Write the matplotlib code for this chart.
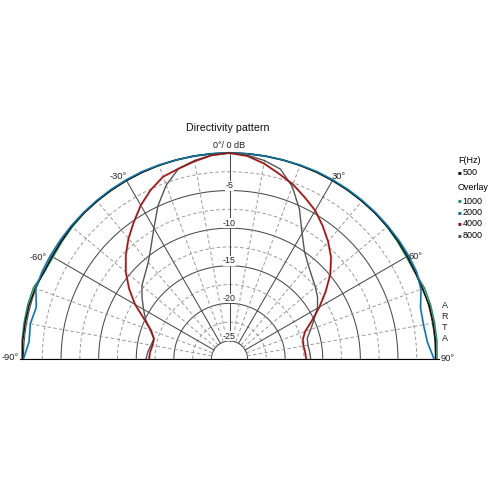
import numpy as np
import matplotlib
matplotlib.use("Agg")
import matplotlib.pyplot as plt

plt.rcParams['font.family'] = ['Liberation Sans', 'DejaVu Sans']

# ---------------- data ----------------
angles_deg = [-90, -85, -80, -75, -70, -65, -60, -55, -50, -45, -40, -35, -30,
              -25, -20, -15, -10, -5, 0, 5, 10, 15, 20, 25, 30, 35, 40, 45,
              50, 55, 60, 65, 70, 75, 80, 85, 90]

db_500 = [0.1, 0.2, 0.2, 0.2, 0.1, -0.15, -0.15, -0.1, 0.0, 0.0, 0.0, 0.0, 0.0,
          0.0, 0.0, 0.0, 0.0, 0.0, 0.0, 0.0, 0.0, 0.0, 0.0, 0.0, 0.0, 0.0, 0.0, 0.0,
          0.0, -0.05, -0.1, -0.15, -0.1, 0.1, 0.1, 0.1, 0.0]

db_1000 = [0.2, 0.3, 0.35, 0.4, 0.35, -0.2, -0.3, -0.2, -0.1, 0.0, 0.0, 0.0, 0.0,
           0.0, 0.0, 0.0, 0.0, 0.0, 0.0, 0.0, 0.0, 0.0, 0.0, 0.0, 0.0, 0.0, 0.0, 0.0,
           -0.05, -0.15, -0.25, -0.2, 0.2, 0.3, 0.3, 0.3, 0.2]

db_2000 = [0.0, -0.65, -0.5, -0.8, 0.0, 0.1, 0.1, 0.1, 0.1, 0.1, 0.1, 0.1, 0.1,
           0.1, 0.05, 0.0, 0.0, 0.0, 0.0, 0.0, 0.0, 0.0, 0.05, 0.1, 0.1, 0.1, 0.1, 0.1,
           0.1, 0.1, 0.1, 0.05, -0.3, -1.1, -1.2, -1.0, -0.2]

db_4000 = [-16.7, -16.8, -17.0, -17.0, -16.3, -14.9, -12.9, -11.1, -9.4, -7.9, -6.5,
           -5.2, -3.8, -2.6, -1.6, -1.2, -0.7, -0.2, 0.0, -0.3, -1.0, -1.9, -2.7,
           -3.7, -4.6, -5.8, -7.0, -8.3, -9.9, -11.8, -13.6, -15.3, -16.7, -17.3,
           -17.4, -17.3, -17.2]

db_8000 = [-16.3, -16.5, -16.8, -17.0, -16.2, -15.1, -14.2, -13.2, -12.2, -11.5,
           -10.6, -9.2, -7.3, -4.9, -2.8, -1.2, -0.6, -0.2, 0.0, -0.2, -0.6, -1.25,
           -3.0, -5.4, -8.1, -10.0, -11.1, -11.9, -12.5, -13.1, -13.9, -15.0, -15.9,
           -16.7, -16.8, -16.7, -16.6]

series_labels = ['500', '1000', '2000', '4000', '8000']
series_colors = ['#111111', '#25905c', '#1c6c9c', '#8e1616', '#555555']
halo_colors = [None, None, '#8ad8ee', '#e07a7a', None]

radial_ticks = [-5, -10, -15, -20, -25]
angle_tick_labels = {-90: '-90°', -60: '-60°', -30: '-30°', 30: '30°', 60: '60°', 90: '90°'}

# ---------------- figure ----------------
W = H = 496
fig = plt.figure(figsize=(W / 100, H / 100), dpi=100)
fig.patch.set_facecolor('white')

rmin, rmax = -27.4, 0.5
px_per_db = 7.52
R = (rmax - rmin) * px_per_db
cx, cy = 229.5, 359.0
# square box; the half-disc wedge is centred vertically inside it
box_bottom_px = cy + R / 2
ax = fig.add_axes([(cx - R) / W, (H - box_bottom_px) / H, 2 * R / W, 2 * R / H],
                  projection='polar')
ax.set_theta_zero_location('N')
ax.set_theta_direction(-1)
ax.set_thetamin(-90)
ax.set_thetamax(90)
ax.set_ylim(rmin, rmax)
ax.grid(False)
ax.set_xticks([])
ax.set_yticks([])
for s in ax.spines.values():
    s.set_visible(False)
ax.patch.set_alpha(0)

th_full = np.deg2rad(np.linspace(-90, 90, 361))
solid_c = '#4a4a4a'
dash_c = '#9a9a9a'
# circles
for lev in [0, -5, -10, -15, -20, -25]:
    ax.plot(th_full, np.full_like(th_full, lev), color=solid_c, lw=0.75, zorder=1)
for lev in [-2.5, -7.5, -12.5, -17.5, -22.5]:
    ax.plot(th_full, np.full_like(th_full, lev), color=dash_c, lw=0.7,
            ls=(0, (3.5, 2.5)), zorder=1)
# radial lines
for a in range(-80, 90, 10):
    t = np.deg2rad(a)
    if a % 30 == 0:
        ax.plot([t, t], [-25, 0], color=solid_c, lw=0.75, zorder=1)
    else:
        ax.plot([t, t], [-25, 0], color=dash_c, lw=0.7, ls=(0, (3.5, 2.5)), zorder=1)
for a in (-90, 90):
    t = np.deg2rad(a)
    ax.plot([t, t], [rmin, 0], color='#bbbbbb', lw=1.0, zorder=1)

# curves
th = np.deg2rad(angles_deg)
data = [db_500, db_1000, db_2000, db_4000, db_8000]
order = [1, 0, 2, 4, 3]
for i in order:
    if halo_colors[i]:
        ax.plot(th, data[i], color=halo_colors[i], lw=1.8, zorder=2.5,
                solid_joinstyle='round', alpha=0.6)
    ax.plot(th, data[i], color=series_colors[i], lw=1.05 if i != 4 else 1.0,
            zorder=3, solid_joinstyle='round')

# radial labels
for lev in radial_ticks:
    ax.text(0, lev + 0.65, str(lev), ha='center', va='center', fontsize=6.4,
            color='#222222', zorder=4,
            bbox=dict(boxstyle='square,pad=0.05', fc='white', ec='none'))
ax.text(0, 0.35, '0°/ 0 dB', ha='center', va='bottom', fontsize=6.5, color='#222222')

# angle labels (position: angle, radius in dB)
ang_pos = {-30: (-31.4, 1.1), 30: (30.9, 0.9), -60: (-62.2, 1.4), 60: (61.2, 0.8),
           -90: (-89.7, 1.8), 90: (89.8, 1.6)}
for a, lab in angle_tick_labels.items():
    ta, ra = ang_pos[a]
    ax.text(np.deg2rad(ta), ra, lab, ha='center', va='center', fontsize=6.7,
            color='#222222')

# title
fig.text(228 / W, 1 - 128 / H, 'Directivity pattern', ha='center', va='center',
         fontsize=7.7, color='#111111')

# legend
lx = 458
fig.text(lx / W, 1 - 160.5 / H, 'F(Hz)', ha='left', va='center', fontsize=6.5)
fig.text(lx / W, 1 - 188 / H, 'Overlay', ha='left', va='center', fontsize=6.5)
leg_y = [172.5, 201, 212.5, 224, 235.5]
for lab, col, y in zip(series_labels, series_colors, leg_y):
    fig.text(lx / W, 1 - y / H, '■', ha='left', va='center', fontsize=4.5, color=col)
    fig.text((lx + 4.5) / W, 1 - y / H, lab, ha='left', va='center', fontsize=6.5)

# ARTA
fig.text(445 / W, 1 - 322 / H, 'A\nR\nT\nA', ha='center', va='center',
         fontsize=6.5, linespacing=1.25, color='#222222')

fig.savefig('out.png', dpi=100, facecolor='white')
